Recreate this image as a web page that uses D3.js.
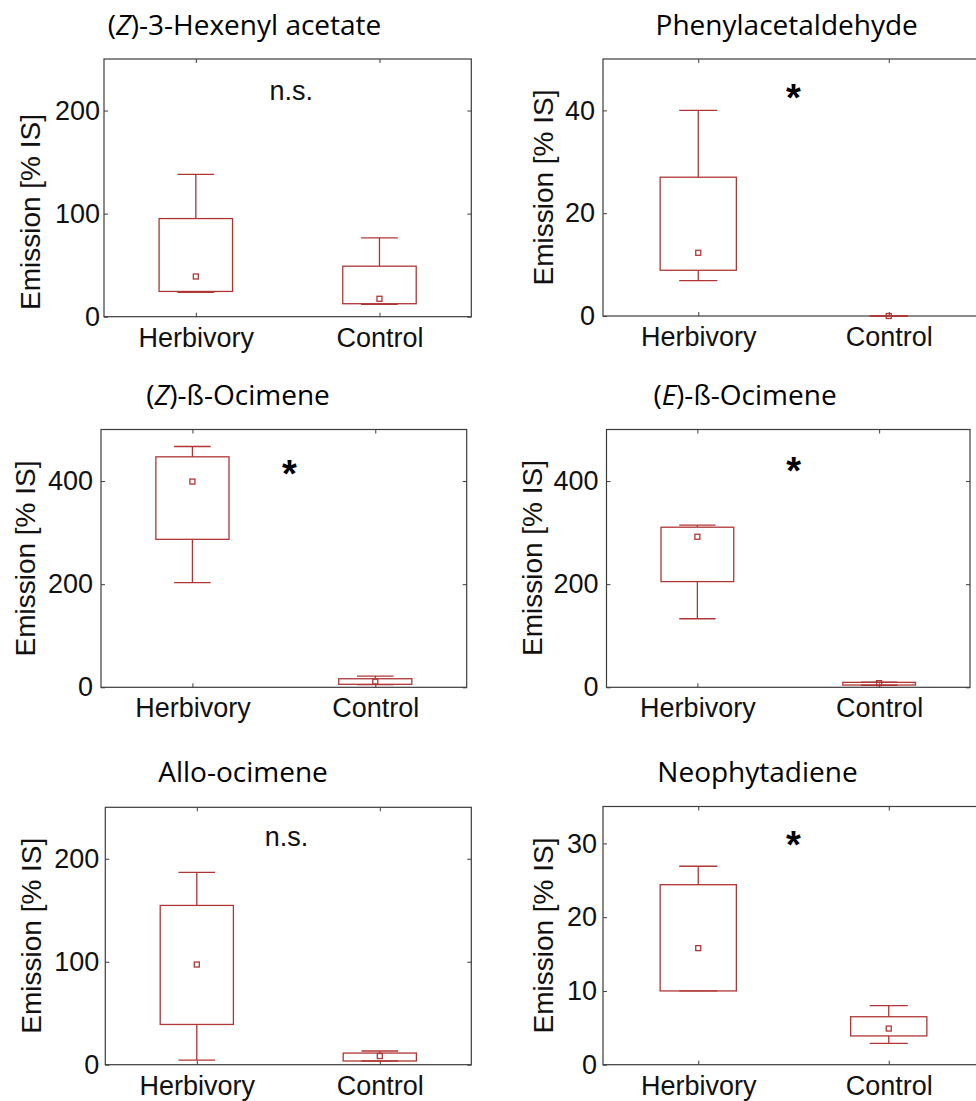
<!DOCTYPE html>
<html>
<head>
<meta charset="utf-8">
<script src="https://cdn.jsdelivr.net/npm/d3@7"></script>
<style>
  body { margin: 0; background: #fff; }
  svg { display: block; }
</style>
</head>
<body>
<div id="chart"></div>
<script>

// ---- data ----
var categories = ['Herbivory', 'Control'];

var titles = ['(Z)-3-Hexenyl acetate', 'Phenylacetaldehyde', '(Z)-ß-Ocimene',
              '(E)-ß-Ocimene', 'Allo-ocimene', 'Neophytadiene'];

var yMax = [250, 50, 500, 500, 250, 35];

var yTicks = [[0, 100, 200], [0, 20, 40], [0, 200, 400],
              [0, 200, 400], [0, 100, 200], [0, 10, 20, 30]];

// [whisker low, q1, q3, whisker high, mean]
var herbivory = [
  [23.6, 24.5, 95.2, 138, 39],
  [6.9, 8.9, 27, 40, 12.3],
  [203, 287, 447, 467, 399],
  [133, 205, 310.5, 314.4, 292],
  [4.5, 39.1, 154.7, 186.7, 97.3],
  [10, 10, 24.4, 26.9, 15.8]
];
var control = [
  [12, 12.6, 49, 76.5, 17.4],
  [0, 0, 0, 0, 0],
  [5, 5.8, 16.6, 21.8, 11],
  [4, 4.4, 9.6, 10, 8],
  [3.6, 3.6, 11.3, 13.3, 8.4],
  [2.9, 3.9, 6.5, 8.0, 4.9]
];

var sigText = ['n.s.', '*', '*', '*', 'n.s.', '*'];
var sigPos = [[1.52, 210], [1.5, 44], [1.53, 429], [1.53, 435], [1.49, 212], [1.5, 30.8]];

// ---- layout (pixels) ----
// left, right, top, bottom, titleX, titleY, ylabelX, ylabelY, tickPad
var layout = [
  [104, 471.3, 59, 316.7, 244.5, 34.5, 40, 212, 4],
  [603, 984, 59, 316, 786.7, 34.5, 553, 187.5, 8],
  [101, 466.7, 429.5, 687.3, 238, 404.5, 35, 558.5, 8],
  [606.5, 970, 429.5, 687.3, 745, 404.5, 541.7, 558, 8],
  [105.3, 471.3, 807.3, 1064.7, 243, 782, 40.7, 935.7, 6],
  [603, 984, 806.5, 1064.7, 757.5, 782, 553.3, 935.5, 6]
];

var boxColor = '#b03636';
var axisColor = '#3c3c3c';
var font = '"Liberation Sans", Arial, sans-serif';
var titleFont = '"Open Sans", "Noto Sans", sans-serif';

var svg = d3.select('#chart').append('svg')
  .attr('width', 976)
  .attr('height', 1101);

svg.append('rect').attr('width', 976).attr('height', 1101).attr('fill', '#fff');

titles.forEach(function(title, p) {
  var L = layout[p];
  var x = d3.scaleLinear().domain([0.5, 2.5]).range([L[0], L[1]]);
  var y = d3.scaleLinear().domain([0, yMax[p]]).range([L[3], L[2]]);
  var g = svg.append('g');

  // frame
  g.append('rect')
    .attr('x', L[0]).attr('y', L[2])
    .attr('width', L[1] - L[0]).attr('height', L[3] - L[2])
    .attr('fill', 'none')
    .attr('stroke', axisColor)
    .attr('stroke-width', 1.2);

  // axes, ticks pointing inward
  var left = g.append('g').attr('transform', 'translate(' + L[0] + ',0)')
    .call(d3.axisLeft(y).tickValues(yTicks[p]).tickFormat(d3.format('d')).tickSize(-4).tickPadding(L[8]));
  var right = g.append('g').attr('transform', 'translate(' + L[1] + ',0)')
    .call(d3.axisRight(y).tickValues(yTicks[p]).tickFormat('').tickSize(-4));
  var bottom = g.append('g').attr('transform', 'translate(0,' + L[3] + ')')
    .call(d3.axisBottom(x).tickValues([1, 2]).tickFormat(function(d) { return categories[d - 1]; }).tickSize(-4).tickPadding(11));
  var top = g.append('g').attr('transform', 'translate(0,' + L[2] + ')')
    .call(d3.axisTop(x).tickValues([1, 2]).tickFormat('').tickSize(-4));

  [left, right, bottom, top].forEach(function(a) {
    a.select('.domain').remove();
    a.selectAll('line').attr('stroke', axisColor);
    a.selectAll('text')
      .attr('fill', '#111')
      .style('font-family', font)
      .style('font-size', '27px');
  });

  // title
  var t = g.append('text')
    .attr('x', L[4]).attr('y', L[5])
    .attr('text-anchor', 'middle')
    .attr('fill', '#000')
    .style('font-family', titleFont)
    .style('font-size', '28px');
  var m = title.match(/^\((Z|E)\)(.*)$/);
  if (m) {
    t.append('tspan').text('(');
    t.append('tspan').style('font-style', 'italic').text(m[1]);
    t.append('tspan').text(')' + m[2]);
  } else {
    t.text(title);
  }

  // y label
  g.append('text')
    .attr('transform', 'translate(' + L[6] + ',' + L[7] + ') rotate(-90)')
    .attr('text-anchor', 'middle')
    .attr('fill', '#111')
    .style('font-family', font)
    .style('font-size', '28px')
    .text('Emission [% IS]');

  // boxes
  var groups = [herbivory[p], control[p]];
  groups.forEach(function(s, i) {
    var pos = i + 1;
    var bg = g.append('g')
      .attr('fill', 'none')
      .attr('stroke', boxColor)
      .attr('stroke-width', 1.3);

    // whiskers
    bg.append('line')
      .attr('x1', x(pos)).attr('x2', x(pos))
      .attr('y1', y(s[2])).attr('y2', y(s[3]));
    bg.append('line')
      .attr('x1', x(pos)).attr('x2', x(pos))
      .attr('y1', y(s[1])).attr('y2', y(s[0]));
    [s[0], s[3]].forEach(function(v) {
      bg.append('line')
        .attr('x1', x(pos - 0.1)).attr('x2', x(pos + 0.1))
        .attr('y1', y(v)).attr('y2', y(v));
    });

    // box
    bg.append('rect')
      .attr('x', x(pos - 0.2))
      .attr('y', y(s[2]))
      .attr('width', x(pos + 0.2) - x(pos - 0.2))
      .attr('height', y(s[1]) - y(s[2]))
      .attr('fill', 'none');

    // mean marker
    bg.append('rect')
      .attr('x', x(pos) - 2.5)
      .attr('y', y(s[4]) - 2.5)
      .attr('width', 5).attr('height', 5);
  });

  // significance
  var sig = sigText[p];
  if (sig === '*') {
    g.append('text')
      .attr('x', x(sigPos[p][0]))
      .attr('y', y(sigPos[p][1]) + 0.55 * 38)
      .attr('text-anchor', 'middle')
      .attr('fill', '#000')
      .style('font-family', font)
      .style('font-weight', 'bold')
      .style('font-size', '38px')
      .text('*');
  } else {
    g.append('text')
      .attr('x', x(sigPos[p][0]))
      .attr('y', y(sigPos[p][1]))
      .attr('text-anchor', 'middle')
      .attr('fill', '#111')
      .style('font-family', font)
      .style('font-size', '27px')
      .text(sig);
  }
});

</script>
</body>
</html>
